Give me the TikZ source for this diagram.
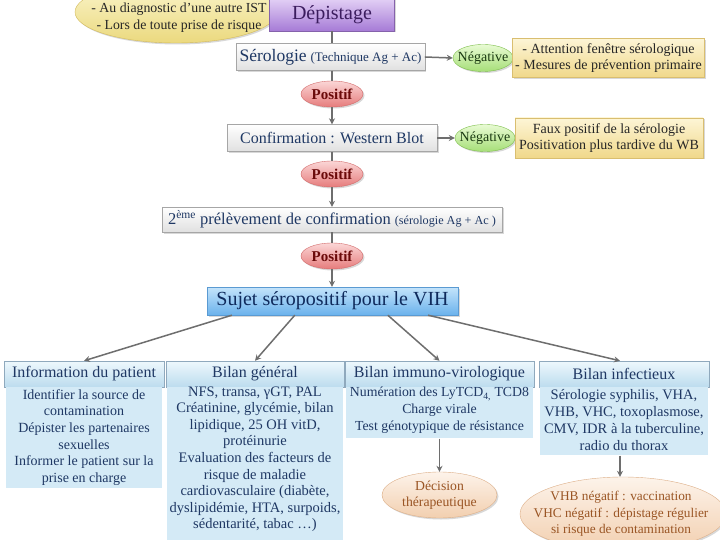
\documentclass[tikz,border=0pt]{standalone}
\usepackage{fontspec}
\setmainfont{Liberation Serif}
\usetikzlibrary{shapes.geometric,arrows.meta,shadows,calc}
\newcommand\myfs[2]{\fontsize{#1}{#2}\selectfont}
\definecolor{navy}{HTML}{1F3864}
\definecolor{conn}{HTML}{6E6E6E}
\definecolor{purpTop}{HTML}{E2CFF5}
\definecolor{purpBot}{HTML}{A67BD6}
\definecolor{purpText}{HTML}{3B1C5E}
\definecolor{yelTop}{HTML}{FBF6CF}
\definecolor{yelBot}{HTML}{EBD97E}
\definecolor{yelDraw}{HTML}{D3BA5A}
\definecolor{grnTop}{HTML}{E8FBD3}
\definecolor{grnBot}{HTML}{A6DE78}
\definecolor{grnDraw}{HTML}{7DBE4B}
\definecolor{grnText}{HTML}{1B3A12}
\definecolor{bxTop}{HTML}{FDF5D6}
\definecolor{bxBot}{HTML}{F0D88A}
\definecolor{bxDraw}{HTML}{D9BE70}
\definecolor{redTop}{HTML}{FBD6D6}
\definecolor{redBot}{HTML}{E67C7C}
\definecolor{redDraw}{HTML}{D26A6A}
\definecolor{redText}{HTML}{6B0A0A}
\definecolor{bluTop}{HTML}{C4E4FB}
\definecolor{bluBot}{HTML}{6BB2EC}
\definecolor{bluDraw}{HTML}{5A9AD2}
\definecolor{bluText}{HTML}{0F2A5C}
\definecolor{hdrTop}{HTML}{EEF8FD}
\definecolor{hdrBot}{HTML}{BCDCEE}
\definecolor{hdrDraw}{HTML}{8FA9BD}
\definecolor{bodyFill}{HTML}{D4EAF6}
\definecolor{peachTop}{HTML}{FDF3EA}
\definecolor{peachBot}{HTML}{F2CFAF}
\definecolor{peachDraw}{HTML}{DDAF88}
\definecolor{brownText}{HTML}{9A5524}
\tikzset{
  shad/.style={drop shadow={opacity=0.3,shadow xshift=1.5pt,shadow yshift=-1.5pt}},
  ln/.style={draw=conn,line width=1.5pt},
  arr/.style={draw=conn,line width=1.5pt,-{Stealth[length=6pt,width=6pt]}},
  txt/.style={inner sep=0pt,align=center},
  purpbox/.style={rectangle,draw=purpBot!80!black,top color=purpTop,bottom color=purpBot,text=purpText,font=\myfs{20}{22},shad},
  graybox/.style={rectangle,draw=black!35,top color=white,bottom color=black!12,text=navy,font=\myfs{16}{18},shad},
  yelell/.style={ellipse,draw=yelDraw,top color=yelTop,bottom color=yelBot,shad},
  grnell/.style={ellipse,draw=grnDraw,top color=grnTop,bottom color=grnBot,minimum width=60pt,minimum height=27pt,inner sep=0pt,shad},
  grntxt/.style={txt,text=grnText,font=\myfs{14}{15}},
  yelbox/.style={rectangle,draw=bxDraw,top color=bxTop,bottom color=bxBot,text=black!85,align=center,font=\myfs{14}{16.5},inner sep=1pt,shad},
  redell/.style={ellipse,draw=redDraw,top color=redTop,bottom color=redBot,minimum width=62pt,minimum height=26pt,inner sep=0pt,shad},
  redtxt/.style={txt,text=redText,font=\bfseries\myfs{15}{16}},
  blubox/.style={rectangle,draw=bluDraw,top color=bluTop,bottom color=bluBot,text=bluText,font=\myfs{20}{22},shad},
  hdr/.style={rectangle,draw=hdrDraw,top color=hdrTop,bottom color=hdrBot,text=navy,font=\myfs{16}{18},minimum height=26pt,inner sep=0pt},
  body/.style={rectangle,fill=bodyFill,anchor=north,inner sep=0pt},
  bodytxt/.style={txt,anchor=north,text=navy,font=\myfs{14}{16.6}},
  peachell/.style={ellipse,draw=peachDraw,top color=peachTop,bottom color=peachBot,inner sep=0pt,shad},
  peachtxt/.style={txt,text=brownText,font=\myfs{13.7}{16}}
}
\begin{document}
\begin{tikzpicture}[x=1pt,y=-1pt]
\useasboundingbox (0,0) rectangle (720,540);
\clip (0,0) rectangle (720,540);
\fill[white] (0,0) rectangle (720,540);

% top context ellipse and Dépistage
\node[yelell,minimum width=202pt,minimum height=62pt] (ctx) at (176,12) {};
\node[txt,text=black!85,font=\myfs{13.8}{17}] (ctxt) at (179,18) {- Au diagnostic d’une autre IST\\- Lors de toute prise de risque};
\node[purpbox,minimum width=125pt,minimum height=32pt] (dep) at (332,15) {Dépistage};

% Sérologie
\node[graybox,minimum width=182pt,minimum height=27pt] (sero) at (330.5,57) {{\myfs{17.5}{19}Sérologie} {\myfs{13}{14}(Technique Ag + Ac)}};
\node[grnell] (neg1) at (483,58) {};
\node[grntxt] (neg1t) at (neg1) {Négative};
\node[yelbox,minimum width=192pt,minimum height=39pt] (att) at (608.5,58) {- Attention fenêtre sérologique\\- Mesures de prévention primaire};
\node[redell] (pos1) at (332,94) {};
\node[redtxt] (pos1t) at (pos1) {Positif};

% Confirmation
\node[graybox,minimum width=210pt,minimum height=27pt] (conf) at (332,138) {Confirmation : Western Blot};
\node[grnell] (neg2) at (485,138) {};
\node[grntxt] (neg2t) at (neg2) {Négative};
\node[yelbox,minimum width=188pt,minimum height=40pt] (faux) at (609,138) {Faux positif de la sérologie\\Positivation plus tardive du WB};
\node[redell] (pos2) at (332,174) {};
\node[redtxt] (pos2t) at (pos2) {Positif};

% 2ème prélèvement
\node[graybox,minimum width=340pt,minimum height=25pt,font=\myfs{16.5}{18}] (deux) at (332,219.5) {2\textsuperscript{ème} prélèvement de confirmation {\myfs{12.2}{13}(sérologie Ag + Ac )}};
\node[redell] (pos3) at (332,256) {};
\node[redtxt] (pos3t) at (pos3) {Positif};

% Sujet séropositif
\node[blubox,minimum width=251pt,minimum height=28pt] (sujet) at (332.5,301) {Sujet séropositif pour le VIH};

% headers
\node[hdr,minimum width=160pt] (info) at (84,374) {Information du patient};
\node[hdr,minimum width=178pt] (gen) at (255,374) {Bilan général};
\node[hdr,minimum width=189pt] (imm) at (439.5,374) {Bilan immuno-virologique};
\node[hdr,minimum width=170pt] (inf) at (624,374) {Bilan infectieux};

% bodies
\node[body,minimum width=156pt,minimum height=101pt] (infob) at (info.south) {};
\node[bodytxt] (infot) at ($(info.south)+(0,2)$) {Identifier la source de\\contamination\\Dépister les partenaires\\sexuelles\\Informer le patient sur la\\prise en charge};
\node[body,minimum width=176pt,minimum height=160pt] (genb) at (gen.south) {};
\node[bodytxt,font=\myfs{14.5}{16.6}] (gent) at ($(gen.south)+(0,-1)$) {NFS, transa, γGT, PAL\\Créatinine, glycémie, bilan\\lipidique, 25 OH vitD,\\protéinurie\\Evaluation des facteurs de\\risque de maladie\\cardiovasculaire (diabète,\\dyslipidémie, HTA, surpoids,\\sédentarité, tabac …)};
\node[body,minimum width=187pt,minimum height=51pt] (immb) at (imm.south) {};
\node[bodytxt,font=\myfs{13.8}{16.6}] (immt) at ($(imm.south)+(0,0)$) {Numération des LyTCD\textsubscript{4,} TCD8\\Charge virale\\Test génotypique de résistance};
\node[body,minimum width=168pt,minimum height=68pt] (infb) at (inf.south) {};
\node[bodytxt,font=\myfs{14.5}{17}] (inft) at ($(inf.south)+(0,2)$) {Sérologie syphilis, VHA,\\VHB, VHC, toxoplasmose,\\CMV, IDR à la tuberculine,\\radio du thorax};

% outcome ellipses
\node[peachell,minimum width=115pt,minimum height=46pt] (dec) at (439.5,495) {};
\node[peachtxt] (dect) at (439.5,495.5) {Décision\\thérapeutique};
\node[peachell,minimum width=206pt,minimum height=74pt] (vhb) at (623,514) {};
\node[peachtxt,font=\myfs{13.3}{16.5}] (vhbt) at (621,514) {VHB négatif : vaccination\\VHC négatif : dépistage régulier\\si risque de contamination};

% connectors
\draw[ln] (dep.south -| sero.north) ++(1.5,0) coordinate (d0) -- (d0 |- sero.north);
\draw[arr] (sero.east) -- (neg1.west);
\draw[ln] (pos1 |- sero.south) -- (pos1.north);
\draw[arr] (pos1.south) -- (pos1.south |- conf.north);
\draw[arr] (conf.east) -- (neg2.west);
\draw[ln] (pos2 |- conf.south) -- (pos2.north);
\draw[arr] (pos2.south) -- (pos2.south |- deux.north);
\draw[ln] (pos3 |- deux.south) -- (pos3.north);
\draw[arr] (pos3.south) -- (pos3.south |- sujet.north);
\draw[arr] ($(sujet.south west)!0.10!(sujet.south east)$) -- (info.north);
\draw[arr] ($(sujet.south west)!0.35!(sujet.south east)$) -- (gen.north);
\draw[arr] ($(sujet.south west)!0.72!(sujet.south east)$) -- (imm.north);
\draw[arr] ($(sujet.south west)!0.88!(sujet.south east)$) -- ($(inf.north)+(-4,0)$);
\draw[arr] (immb.south) -- (immb.south |- dec.north);
\draw[arr] ($(infb.south)+(-4,0)$) coordinate (i0) -- (i0 |- vhb.north);
\end{tikzpicture}
\end{document}
